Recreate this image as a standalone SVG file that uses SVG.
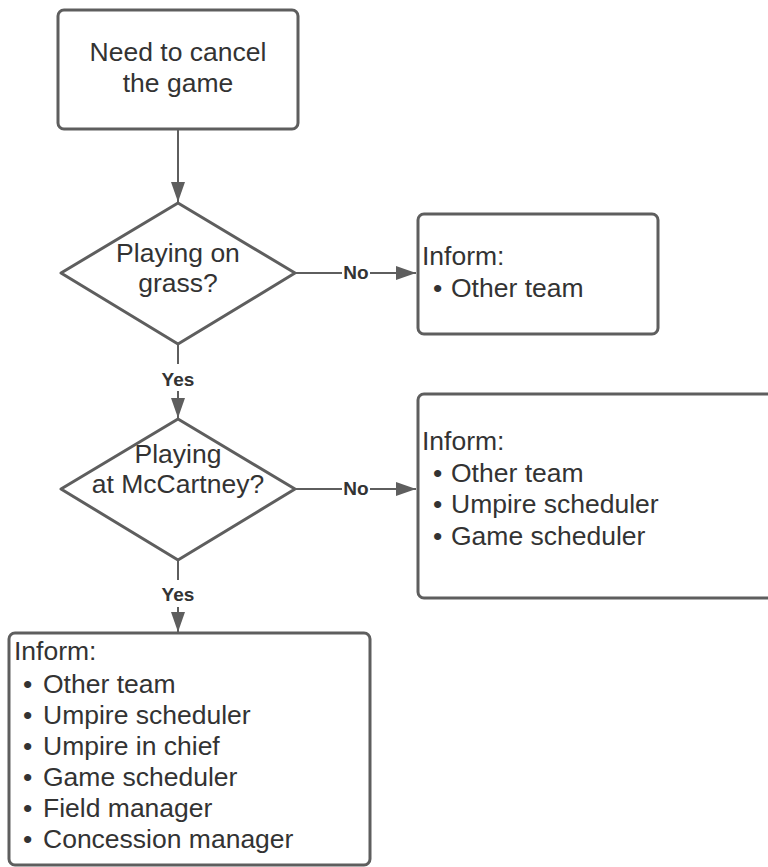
<svg xmlns="http://www.w3.org/2000/svg" width="768" height="867" viewBox="0 0 768 867">
<style>
.shape{fill:#ffffff;stroke:#5e5e5e;stroke-width:3;stroke-linejoin:round}
.t{font-family:"Liberation Sans",Arial,sans-serif;font-size:26.5px;fill:#333333}
.c{text-anchor:middle}
.lbl{font-family:"Liberation Sans",Arial,sans-serif;font-size:19px;font-weight:bold;fill:#333333;text-anchor:middle}
.edge{stroke:#5e5e5e;stroke-width:2;fill:none}
</style>
<defs>
<marker id="arr" markerUnits="userSpaceOnUse" markerWidth="22" markerHeight="16" refX="20" refY="7" orient="auto">
<path d="M0,0 L20,7 L0,14 z" fill="#5e5e5e"/>
</marker>
</defs>
<rect width="768" height="867" fill="#ffffff"/>
<g id="connectors">
<line class="edge" x1="178" y1="130" x2="178" y2="202" marker-end="url(#arr)"/>
<line class="edge" x1="295" y1="273" x2="342" y2="273"/>
<line class="edge" x1="370" y1="273" x2="416" y2="273" marker-end="url(#arr)"/>
<text class="lbl" x="356" y="279">No</text>
<line class="edge" x1="178" y1="344" x2="178" y2="364"/>
<line class="edge" x1="178" y1="391" x2="178" y2="418" marker-end="url(#arr)"/>
<text class="lbl" x="178" y="386">Yes</text>
<line class="edge" x1="295" y1="489" x2="342" y2="489"/>
<line class="edge" x1="370" y1="489" x2="416" y2="489" marker-end="url(#arr)"/>
<text class="lbl" x="356" y="495">No</text>
<line class="edge" x1="178" y1="560" x2="178" y2="580"/>
<line class="edge" x1="178" y1="607" x2="178" y2="632" marker-end="url(#arr)"/>
<text class="lbl" x="178" y="601">Yes</text>
</g>
<g id="start">
<rect class="shape" x="58" y="10" width="240" height="119" rx="6"/>
<text class="t c" x="178" y="61">Need to cancel</text>
<text class="t c" x="178" y="92">the game</text>
</g>
<g id="grass">
<polygon class="shape" points="178,203 295,273 178,344 61,273"/>
<text class="t c" x="178" y="262">Playing on</text>
<text class="t c" x="178" y="292">grass?</text>
</g>
<g id="inform1">
<rect class="shape" x="418" y="214" width="240" height="120" rx="6"/>
<text class="t" x="422" y="265">Inform:</text>
<text class="t" y="297"><tspan x="433">•</tspan><tspan x="451">Other team</tspan></text>
</g>
<g id="mccartney">
<polygon class="shape" points="178,419 295,489 178,560 61,489"/>
<text class="t c" x="178" y="463">Playing</text>
<text class="t c" x="178" y="493">at McCartney?</text>
</g>
<g id="inform2">
<rect class="shape" x="418" y="394" width="370" height="204" rx="6"/>
<text class="t" x="422" y="450">Inform:</text>
<text class="t" y="482"><tspan x="433">•</tspan><tspan x="451">Other team</tspan></text>
<text class="t" y="513"><tspan x="433">•</tspan><tspan x="451">Umpire scheduler</tspan></text>
<text class="t" y="545"><tspan x="433">•</tspan><tspan x="451">Game scheduler</tspan></text>
</g>
<g id="inform3">
<rect class="shape" x="9" y="633" width="361" height="232" rx="6"/>
<text class="t" x="14" y="660">Inform:</text>
<text class="t" y="693"><tspan x="23">•</tspan><tspan x="43">Other team</tspan></text>
<text class="t" y="724"><tspan x="23">•</tspan><tspan x="43">Umpire scheduler</tspan></text>
<text class="t" y="755"><tspan x="23">•</tspan><tspan x="43">Umpire in chief</tspan></text>
<text class="t" y="786"><tspan x="23">•</tspan><tspan x="43">Game scheduler</tspan></text>
<text class="t" y="817"><tspan x="23">•</tspan><tspan x="43">Field manager</tspan></text>
<text class="t" y="848"><tspan x="23">•</tspan><tspan x="43">Concession manager</tspan></text>
</g>
</svg>
